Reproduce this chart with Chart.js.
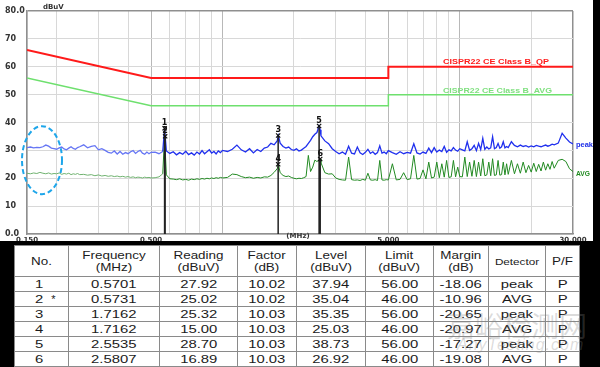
<!DOCTYPE html>
<html>
<head>
<meta charset="utf-8">
<script src="https://cdn.jsdelivr.net/npm/chart.js@4.4.1/dist/chart.umd.min.js"></script>
<style>
html, body { margin: 0; padding: 0; background: #fff; }
#wrap { position: relative; width: 600px; height: 367px; overflow: hidden; background: #fff; }
#plot { position: absolute; left: 0; top: 0; }
#edge { position: absolute; left: 593px; top: 0; width: 7px; height: 367px; background: #000; }
#band { position: absolute; left: 0; top: 241px; width: 600px; height: 126px; background: #000; }
#tbl { position: absolute; left: 14px; top: 245px; width: 565px; border-collapse: collapse; table-layout: fixed;
	background: #fff; color: #1b1b1b; font-family: "Liberation Sans", Arial, sans-serif; }
#tbl th, #tbl td { border: 1px solid #8a8a8a; padding: 0; text-align: center; font-weight: normal; white-space: nowrap; overflow: hidden; }
#tbl th { height: 30px; font-size: 11px; line-height: 12px; }
#tbl td { height: 14px; font-size: 11px; line-height: 14px; }
#tbl td.no { text-align: left; padding-left: 21px; }
.s { display: inline-block; transform: scaleX(1.35); }
.h { display: inline-block; transform: scaleX(1.22); }
.d { display: inline-block; font-size: 9px; transform: scaleX(1.3); }
#wm1 { position: absolute; left: 447px; top: 305px; font: 28px "Noto Sans CJK SC"; color: rgba(130,130,130,0.28); letter-spacing: 0px; }
#wm2 { position: absolute; left: 457px; top: 336px; font: italic 16px "Liberation Sans"; color: rgba(130,130,130,0.28); letter-spacing: 1px; }
</style>
</head>
<body>
<div id="wrap">
	<canvas id="plot" width="593" height="243"></canvas>
	<div id="band"></div>
	<div id="edge"></div>
	<table id="tbl">
		<colgroup>
			<col style="width:54px"><col style="width:91px"><col style="width:78px"><col style="width:59px"><col style="width:69px">
			<col style="width:68px"><col style="width:55px"><col style="width:57px"><col style="width:34px">
		</colgroup>
		<thead><tr id="head"></tr></thead>
		<tbody id="body"></tbody>
	</table>
	<div id="wm1">嘉峪检测网</div>
	<div id="wm2">AnyTesting.com</div>
</div>
<script>
// scan frequencies (MHz) shared by both traces
const freqMHz = [
	0.150, 0.155, 0.160, 0.165, 0.170, 0.175, 0.180, 0.185, 0.190, 0.195, 0.200, 0.205, 0.210, 0.215, 0.220, 0.225, 0.230, 0.235, 0.240, 0.245, 0.250,
	0.26, 0.27, 0.28, 0.29, 0.30, 0.31, 0.32, 0.33, 0.34, 0.35, 0.36, 0.37, 0.38, 0.39, 0.40, 0.41, 0.42, 0.43, 0.44, 0.45, 0.46, 0.47, 0.48, 0.49, 0.50,
	0.52, 0.54, 0.56, 0.57, 0.58, 0.60, 0.62, 0.64, 0.66, 0.68, 0.70, 0.72, 0.74, 0.76, 0.78, 0.80, 0.82, 0.84, 0.86, 0.88, 0.90, 0.92, 0.94, 0.96, 0.98, 1.00,
	1.05, 1.10, 1.15, 1.20, 1.25, 1.30, 1.35, 1.40, 1.45, 1.50, 1.55, 1.60, 1.65, 1.70, 1.72, 1.75, 1.80, 1.85, 1.90, 1.95, 2.00, 2.05, 2.10, 2.15, 2.20, 2.25, 2.30, 2.35, 2.40, 2.45, 2.50, 2.55, 2.58,
	2.6, 2.7, 2.8, 2.9, 3.0, 3.1, 3.2, 3.3, 3.4, 3.5, 3.6, 3.7, 3.8, 3.9, 4.0, 4.1, 4.2, 4.3, 4.4, 4.5, 4.6, 4.7, 4.8, 4.9, 5.0,
	5.2, 5.4, 5.6, 5.8, 6.0, 6.2, 6.4, 6.6, 6.8, 7.0, 7.2, 7.4, 7.6, 7.8, 8.0, 8.2, 8.4, 8.6, 8.8, 9.0, 9.2, 9.4, 9.6, 9.8, 10.0,
	10.25, 10.5, 10.75, 11.0, 11.25, 11.5, 11.75, 12.0, 12.25, 12.5, 12.75, 13.0, 13.25, 13.5, 13.75, 14.0, 14.25, 14.5, 14.75, 15.0, 15.25, 15.5, 15.75, 16.0,
	16.5, 17.0, 17.5, 18.0, 18.5, 19.0, 19.5, 20.0, 20.5, 21.0, 21.5, 22.0, 22.5, 23.0, 23.5, 24.0, 24.5, 25.0,
	26, 27, 28, 29, 30
];

// peak detector trace (dBuV)
const peakLevel = [
	31.0, 31.2, 30.9, 31.1, 31.0, 31.3, 31.9, 31.5, 30.8, 30.6, 30.4, 30.9, 31.2, 30.5, 30.2, 30.8, 31.3, 30.7, 30.4, 31.0, 31.3,
	32.0, 30.9, 31.4, 31.7, 30.2, 30.6, 30.0, 29.3, 29.0, 29.8, 28.7, 29.6, 28.6, 29.2, 28.8, 29.5, 29.9, 28.9, 29.6, 30.0, 29.0, 28.6, 29.4, 28.8, 29.3,
	29.4, 28.8, 29.6, 37.9, 29.8, 28.9, 29.5, 28.4, 29.2, 28.6, 29.7, 28.5, 29.1, 28.3, 29.4, 28.7, 29.9, 28.8, 29.5, 30.2, 29.0, 29.6, 28.7, 29.8, 29.2, 30.0,
	29.6, 30.4, 31.9, 30.2, 29.4, 30.6, 29.1, 30.3, 29.6, 30.8, 31.2, 32.5, 32.0, 33.4, 35.3, 32.6, 31.4, 30.8, 31.2, 30.3, 30.0, 30.6, 29.8, 30.1, 30.8, 31.4, 32.5, 33.6, 34.9, 35.8, 36.4, 38.7, 37.4,
	35.2, 33.4, 32.4, 30.6, 29.6, 28.8, 29.4, 28.6, 31.5, 29.0, 28.7, 31.2, 29.1, 28.5, 29.3, 30.4, 28.9, 29.5, 28.6, 29.2, 31.6, 29.0, 29.4, 28.8, 29.9,
	29.2, 28.6, 29.5, 28.8, 29.3, 29.0, 32.4, 29.1, 28.7, 29.4, 28.9, 30.8, 29.2, 31.0, 29.4, 30.1, 29.6, 31.4, 29.3, 30.2, 29.8, 31.0, 30.1, 29.7, 30.6,
	30.2, 29.8, 33.1, 30.0, 30.6, 31.8, 29.9, 32.5, 30.3, 34.3, 30.4, 31.2, 30.5, 30.9, 34.9, 30.6, 31.0, 32.5, 30.8, 31.3, 33.1, 30.9, 31.4, 31.0,
	33.1, 31.8, 31.3, 31.9, 31.4, 31.7, 31.2, 31.6, 31.3, 31.8, 31.5, 31.3, 31.6, 31.9, 31.5, 31.8, 32.2, 32.0,
	32.6, 36.1, 34.4, 33.0, 32.3
];

// average detector trace (dBuV)
const avgLevel = [
	21.8, 21.6, 21.9, 21.7, 22.1, 21.8, 21.6, 21.9, 21.5, 21.7, 21.6, 21.9, 21.4, 21.7, 21.5, 21.8, 21.3, 21.6, 21.4, 21.7, 21.3,
	21.4, 21.1, 21.3, 20.9, 21.2, 20.8, 21.0, 20.7, 20.9, 20.6, 20.8, 20.5, 20.7, 20.4, 20.6, 20.3, 20.5, 20.2, 20.4, 20.3, 20.1, 20.4, 20.2, 20.3, 20.1,
	20.2, 20.5, 21.6, 35.0, 21.2, 19.8, 19.7, 19.5, 19.8, 19.4, 19.6, 19.3, 19.7, 19.5, 19.8, 19.6, 19.9, 19.7, 20.0, 19.8, 20.1, 19.9, 20.2, 20.0, 20.3, 20.1,
	20.3, 21.5, 21.3, 20.6, 20.2, 20.4, 20.0, 20.3, 20.1, 20.5, 20.4, 21.0, 22.1, 23.4, 25.0, 22.0, 21.0, 20.6, 20.8, 20.3, 20.0, 19.8, 20.0, 19.9, 20.2, 20.6, 28.2, 22.4, 24.0, 26.5, 26.0, 26.5, 26.9,
	25.6, 22.0, 21.5, 21.6, 20.1, 19.6, 19.4, 19.3, 27.6, 19.5, 19.3, 19.4, 19.2, 19.6, 19.3, 21.8, 19.4, 19.3, 19.5, 19.2, 26.4, 19.4, 19.3, 19.5, 19.4,
	25.2, 19.4, 19.6, 22.0, 19.5, 19.8, 28.2, 19.7, 19.9, 23.0, 19.8, 25.8, 20.1, 20.4, 25.8, 20.2, 25.2, 20.4, 26.4, 20.3, 20.5, 26.4, 20.5, 24.0, 20.6,
	20.5, 27.6, 20.6, 25.8, 20.7, 26.4, 20.6, 25.8, 20.8, 27.0, 20.9, 21.2, 25.8, 20.9, 27.0, 21.0, 21.2, 26.4, 21.1, 21.3, 25.8, 21.2, 25.2, 21.4,
	26.4, 21.6, 25.2, 21.8, 25.8, 22.0, 24.6, 22.2, 25.4, 22.4, 25.0, 22.6, 25.8, 22.9, 25.2, 23.2, 26.0, 23.6,
	26.4, 26.8, 26.0, 23.4, 22.4
];

// CISPR22 class B limit lines
const limitFreq = [0.15, 0.5, 5, 5, 30];
const qpLimit = [66, 56, 56, 60, 60];
const avLimit = [56, 46, 46, 50, 50];

// final measurement table
const markerNo = [1, 2, 3, 4, 5, 6];
const markerStar = ["", "*", "", "", "", ""];
const markerFreq = [0.5701, 0.5731, 1.7162, 1.7162, 2.5535, 2.5807];
const reading = [27.92, 25.02, 25.32, 15.00, 28.70, 16.89];
const factor = [10.02, 10.02, 10.03, 10.03, 10.03, 10.03];
const markerLevel = [37.94, 35.04, 35.35, 25.03, 38.73, 26.92];
const limitAt = [56.00, 46.00, 56.00, 46.00, 56.00, 46.00];
const margin = [-18.06, -10.96, -20.65, -20.97, -17.27, -19.08];
const detector = ["peak", "AVG", "peak", "AVG", "peak", "AVG"];
const passFail = ["P", "P", "P", "P", "P", "P"];

// axis
const gridFreq = [0.15, 0.2, 0.3, 0.4, 0.5, 0.6, 0.7, 0.8, 0.9, 1, 2, 3, 4, 5, 6, 7, 8, 9, 10, 20, 30];
const xTickText = { 0.15: "0.150", 0.5: "0.500", 5: "5.000", 30: "30.000" };

const tickFont = { family: "DejaVu Sans", size: 7, weight: "bold" };

function fitText(ctx, text, x0, yb, w) {
	const m = ctx.measureText(text).width;
	ctx.save();
	ctx.translate(x0, yb);
	ctx.scale(w / m, 1);
	ctx.textAlign = "left";
	ctx.fillText(text, 0, 0);
	ctx.restore();
}

const overlay = {
	id: "overlay",
	afterDatasetsDraw(chart) {
		const { ctx, chartArea: area, scales: { x, y } } = chart;
		ctx.save();

		// marker numbers
		ctx.fillStyle = "#111";
		ctx.font = "bold 8px 'DejaVu Sans'";
		ctx.textAlign = "center";
		ctx.textBaseline = "alphabetic";
		markerFreq.forEach((f, i) => {
			ctx.fillText(String(markerNo[i]), x.getPixelForValue(f), y.getPixelForValue(markerLevel[i]) - 3);
		});

		// limit names
		ctx.font = "bold 8px 'Liberation Sans'";
		ctx.fillStyle = "#ff1a1a";
		fitText(ctx, "CISPR22 CE Class B_QP", area.right - 130, y.getPixelForValue(60) - 3, 106);
		ctx.fillStyle = "#7fe07f";
		fitText(ctx, "CISPR22 CE Class B_AVG", area.right - 130, y.getPixelForValue(50) - 2, 109);

		// trace names
		ctx.font = "bold 8px 'Liberation Sans'";
		ctx.fillStyle = "#1f2fe8";
		fitText(ctx, "peak", area.right + 3, y.getPixelForValue(peakLevel[peakLevel.length - 1]) + 3, 17);
		ctx.fillStyle = "#1f8a1f";
		fitText(ctx, "AVG", area.right + 3, y.getPixelForValue(avgLevel[avgLevel.length - 1]) + 4, 14);

		// units
		ctx.fillStyle = "#333";
		ctx.font = "bold 7px 'DejaVu Sans'";
		ctx.textAlign = "left";
		ctx.fillText("dBuV", 43, 9);
		ctx.textAlign = "center";
		ctx.textBaseline = "top";
		ctx.fillText("(MHz)", 298, 233);

		// dashed highlight ellipse
		ctx.setLineDash([5, 3]);
		ctx.strokeStyle = "#1ea6ea";
		ctx.lineWidth = 2;
		ctx.beginPath();
		ctx.ellipse(area.left + 15, y.getPixelForValue(26.5), 20, 34, 0, 0, Math.PI * 2);
		ctx.stroke();
		ctx.restore();
	},
};

const stems = markerFreq.flatMap((f, i) => [
	{ x: f, y: markerLevel[i] },
	{ x: f, y: 0 },
	{ x: f, y: null },
]);

const data = {
	datasets: [
		{
			type: "scatter",
			data: markerFreq.map((f, i) => ({ x: f, y: markerLevel[i] })),
			pointStyle: "crossRot",
			pointRadius: 3,
			borderColor: "#111",
			backgroundColor: "#111",
			borderWidth: 1.2,
		},
		{
			data: stems,
			borderColor: "#222",
			borderWidth: 1.5,
			pointRadius: 0,
			spanGaps: false,
		},
		{
			data: freqMHz.map((f, i) => ({ x: f, y: peakLevel[i] })),
			borderWidth: 1.3,
			pointRadius: 0,
			segment: { borderColor: c => (c.p0.parsed.x < 0.55 ? "#6676f4" : "#2030ee") },
		},
		{
			data: freqMHz.map((f, i) => ({ x: f, y: avgLevel[i] })),
			borderWidth: 1,
			pointRadius: 0,
			segment: { borderColor: c => (c.p0.parsed.x < 0.55 ? "#6fb26f" : "#228a22") },
		},
		{
			data: limitFreq.map((f, i) => ({ x: f, y: qpLimit[i] })),
			borderColor: "#ff1a1a",
			borderWidth: 2,
			pointRadius: 0,
		},
		{
			data: limitFreq.map((f, i) => ({ x: f, y: avLimit[i] })),
			borderColor: "#6ee06e",
			borderWidth: 1.5,
			pointRadius: 0,
		},
	],
};

const options = {
	responsive: false,
	animation: false,
	devicePixelRatio: 1,
	layout: { padding: { left: 5, right: 20, top: 11, bottom: 0 } },
	plugins: { legend: { display: false }, tooltip: { enabled: false } },
	scales: {
		x: {
			type: "logarithmic",
			min: 0.15,
			max: 30,
			afterBuildTicks: s => { s.ticks = gridFreq.map(v => ({ value: v })); },
			afterFit: s => { s.height = 9; },
			grid: {
				drawTicks: false,
				color: c => {
					const v = c.tick && c.tick.value;
					if (v === 30) return "#8f8f8f";
					if (v === 0.5 || v === 1 || v === 5 || v === 10) return "#b8b8b8";
					return "#d8d8d8";
				},
				lineWidth: c => (c.tick && c.tick.value === 30 ? 1.5 : 1),
			},
			border: { color: "#8f8f8f", width: 1.5 },
			ticks: {
				autoSkip: false,
				maxRotation: 0,
				padding: 2,
				color: "#333",
				font: tickFont,
				callback: v => xTickText[v] || "",
			},
		},
		y: {
			min: 0,
			max: 80,
			afterFit: s => { s.width = 22; },
			grid: {
				drawTicks: false,
				color: c => (c.tick && c.tick.value === 80 ? "#8f8f8f" : "#d8d8d8"),
				lineWidth: c => (c.tick && c.tick.value === 80 ? 1.5 : 1),
			},
			border: { color: "#8f8f8f", width: 1.5 },
			ticks: {
				stepSize: 10,
				crossAlign: "far",
				color: "#333",
				font: { family: "DejaVu Sans", size: 8, weight: "bold" },
				callback: v => (v === 0 || v === 80 ? v.toFixed(1) : String(v)),
			},
		},
	},
};

new Chart(document.getElementById("plot"), {
	type: "line",
	data: data,
	options: options,
	plugins: [overlay],
});

// table
const headers = ["No.", "Frequency<br>(MHz)", "Reading<br>(dBuV)", "Factor<br>(dB)", "Level<br>(dBuV)",
	"Limit<br>(dBuV)", "Margin<br>(dB)", "Detector", "P/F"];
document.getElementById("head").innerHTML = headers
	.map(h => (h === "Detector" ? `<th><span class="d">${h}</span></th>` : `<th><span class="h">${h}</span></th>`))
	.join("");

document.getElementById("body").innerHTML = markerNo
	.map((n, i) => {
		const star = markerStar[i] ? `<span style="margin-left:9px">${markerStar[i]}</span>` : "";
		const cells = [
			freqMHz && markerFreq[i].toFixed(4),
			reading[i].toFixed(2),
			factor[i].toFixed(2),
			markerLevel[i].toFixed(2),
			limitAt[i].toFixed(2),
			margin[i].toFixed(2),
			detector[i],
			passFail[i],
		];
		return `<tr><td class="no"><span class="s">${n}</span>${star}</td>` +
			cells.map(c => `<td><span class="s">${c}</span></td>`).join("") + "</tr>";
	})
	.join("");
</script>
</body>
</html>
